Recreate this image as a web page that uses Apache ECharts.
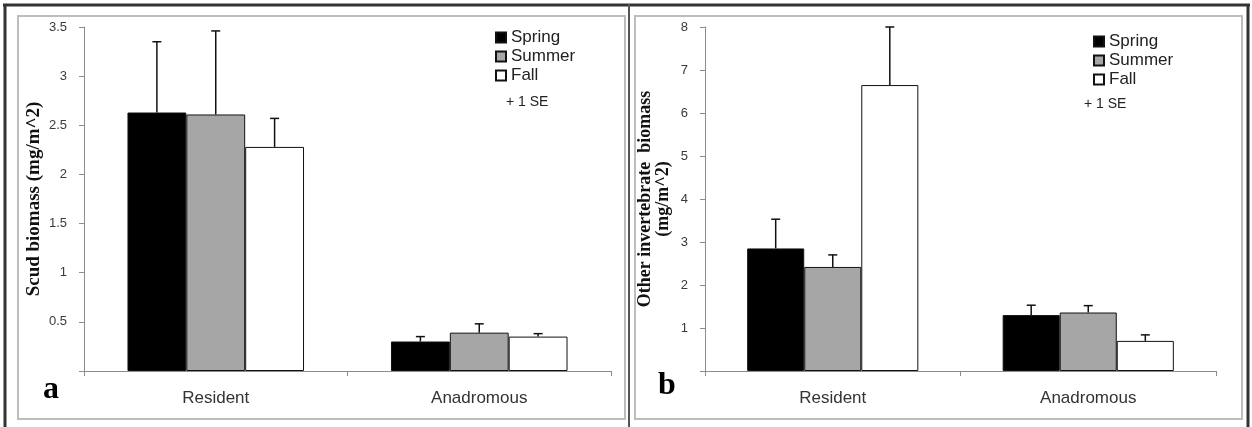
<!DOCTYPE html>
<html>
<head>
<meta charset="utf-8">
<script src="https://cdn.jsdelivr.net/npm/echarts@6/dist/echarts.min.js"></script>
<style>
html,body{margin:0;padding:0;background:#fff;}
#chart{width:1252px;height:427px;}
</style>
</head>
<body>
<div id="chart"></div>
<script>
// ---- data ----
const categories = ['Resident', 'Anadromous'];
const seasons = ['Spring', 'Summer', 'Fall'];

const scudSpring = [2.63, 0.30];
const scudSummer = [2.61, 0.39];
const scudFall = [2.28, 0.35];
const scudSpringSE = [0.72, 0.05];
const scudSummerSE = [0.85, 0.09];
const scudFallSE = [0.29, 0.03];

const otherSpring = [2.85, 1.30];
const otherSummer = [2.42, 1.36];
const otherFall = [6.65, 0.70];
const otherSpringSE = [0.68, 0.23];
const otherSummerSE = [0.28, 0.16];
const otherFallSE = [1.35, 0.14];

const scudAxisName = 'Scud biomass (mg/m^2)';
const otherAxisName = 'Other invertebrate  biomass\n(mg/m^2)';
const seNote = '+ 1 SE';

// ---- build ----
const GAP = 0.33;
const fills = ['#000000', '#a6a6a6', '#ffffff'];
const sansFont = '"Liberation Sans", Arial, sans-serif';
const serifFont = '"Liberation Serif", "Times New Roman", serif';

function errData(means, ses) {
  const out = [];
  means.forEach((m, s) => m.forEach((v, c) => out.push([c, s, v, ses[s][c]])));
  return out;
}
function errRender(params, api) {
  const cat = api.value(0), s = api.value(1), mean = api.value(2), se = api.value(3);
  const catW = api.size([1, 0])[0];
  const barW = catW * (1 - GAP) / 3;
  const p0 = api.coord([cat, mean]);
  const p1 = api.coord([cat, mean + se]);
  const x = p0[0] + (s - 1) * barW;
  const st = { stroke: '#111', lineWidth: 1.5 };
  return {
    type: 'group',
    children: [
      { type: 'line', shape: { x1: x, y1: p0[1], x2: x, y2: p1[1] }, style: st },
      { type: 'line', shape: { x1: x - 4.5, y1: p1[1], x2: x + 4.5, y2: p1[1] }, style: st }
    ]
  };
}
function barSeries(name, data, idx, i) {
  return {
    name: name, type: 'bar', xAxisIndex: idx, yAxisIndex: idx, data: data,
    barGap: '0%', barCategoryGap: (GAP * 100) + '%',
    itemStyle: { color: fills[i], borderColor: '#111', borderWidth: 1 },
    emphasis: { disabled: true }
  };
}
const axisGray = '#8c8c8c';
function yAxis(idx, max, interval, name, nameGap, fs) {
  return {
    type: 'value', gridIndex: idx, min: 0, max: max, interval: interval,
    name: name, nameLocation: 'middle', nameGap: nameGap, nameRotate: 90,
    nameTextStyle: { fontFamily: serifFont, fontWeight: 'bold', fontSize: fs, color: '#111', lineHeight: 18 },
    splitLine: { show: false },
    axisLine: { show: true, lineStyle: { color: axisGray, width: 1 } },
    axisTick: { show: true, length: 5, lineStyle: { color: axisGray } },
    axisLabel: { margin: 17, fontSize: 13, color: '#3a3a3a', fontFamily: sansFont,
      formatter: v => (v === 0 ? '' : String(v)) }
  };
}
function xAxis(idx) {
  return {
    type: 'category', gridIndex: idx, data: categories,
    axisLine: { show: true, lineStyle: { color: axisGray, width: 1 } },
    axisTick: { show: true, length: 5, lineStyle: { color: axisGray } },
    axisLabel: { margin: 19, fontSize: 17, color: '#333', fontFamily: sansFont }
  };
}
function legend(left, top) {
  return {
    orient: 'vertical', left: left, top: top, data: seasons, icon: 'rect',
    itemWidth: 10, itemHeight: 10, itemGap: 2, padding: 0,
    textStyle: { fontSize: 17, color: '#222', fontFamily: sansFont },
    selectedMode: false
  };
}

const option = {
  animation: false,
  backgroundColor: '#fff',
  grid: [
    { left: 84, right: 641, top: 27, bottom: 56 },
    { left: 705, right: 36, top: 27, bottom: 56 }
  ],
  xAxis: [xAxis(0), xAxis(1)],
  yAxis: [yAxis(0, 3.5, 0.5, scudAxisName, 41, 19), yAxis(1, 8, 1, otherAxisName, 33, 18)],
  legend: [legend(495, 29), legend(1093, 33)],
  series: [
    barSeries('Spring', scudSpring, 0, 0),
    barSeries('Summer', scudSummer, 0, 1),
    barSeries('Fall', scudFall, 0, 2),
    barSeries('Spring', otherSpring, 1, 0),
    barSeries('Summer', otherSummer, 1, 1),
    barSeries('Fall', otherFall, 1, 2),
    { name: 'SE a', type: 'custom', xAxisIndex: 0, yAxisIndex: 0, z: 5,
      data: errData([scudSpring, scudSummer, scudFall], [scudSpringSE, scudSummerSE, scudFallSE]),
      encode: { x: 0, y: 2 }, renderItem: errRender },
    { name: 'SE b', type: 'custom', xAxisIndex: 1, yAxisIndex: 1, z: 5,
      data: errData([otherSpring, otherSummer, otherFall], [otherSpringSE, otherSummerSE, otherFallSE]),
      encode: { x: 0, y: 2 }, renderItem: errRender }
  ],
  graphic: [
    { type: 'rect', z: -10, shape: { x: 18, y: 16, width: 607, height: 403 }, style: { fill: 'none', stroke: '#bdbdbd', lineWidth: 2 } },
    { type: 'rect', z: -10, shape: { x: 635, y: 16, width: 607, height: 403 }, style: { fill: 'none', stroke: '#bdbdbd', lineWidth: 2 } },
    { type: 'line', z: -5, shape: { x1: 3, y1: 5, x2: 1250, y2: 5 }, style: { stroke: '#333', lineWidth: 3 } },
    { type: 'line', z: -5, shape: { x1: 5, y1: 4, x2: 5, y2: 427 }, style: { stroke: '#333', lineWidth: 3 } },
    { type: 'line', z: -5, shape: { x1: 1248, y1: 4, x2: 1248, y2: 427 }, style: { stroke: '#333', lineWidth: 3 } },
    { type: 'line', z: -5, shape: { x1: 629, y1: 4, x2: 629, y2: 427 }, style: { stroke: '#555', lineWidth: 2 } },
    { type: 'text', left: 506, top: 95, style: { text: seNote, fill: '#222', font: '14px ' + sansFont } },
    { type: 'text', left: 1084, top: 97, style: { text: seNote, fill: '#222', font: '14px ' + sansFont } },
    { type: 'text', left: 43, top: 374, style: { text: 'a', font: 'bold 32px ' + serifFont, fill: '#000' } },
    { type: 'text', left: 658, top: 370, style: { text: 'b', font: 'bold 32px ' + serifFont, fill: '#000' } }
  ]
};

const chart = echarts.init(document.getElementById('chart'), null, { renderer: 'canvas' });
chart.setOption(option);
</script>
</body>
</html>
